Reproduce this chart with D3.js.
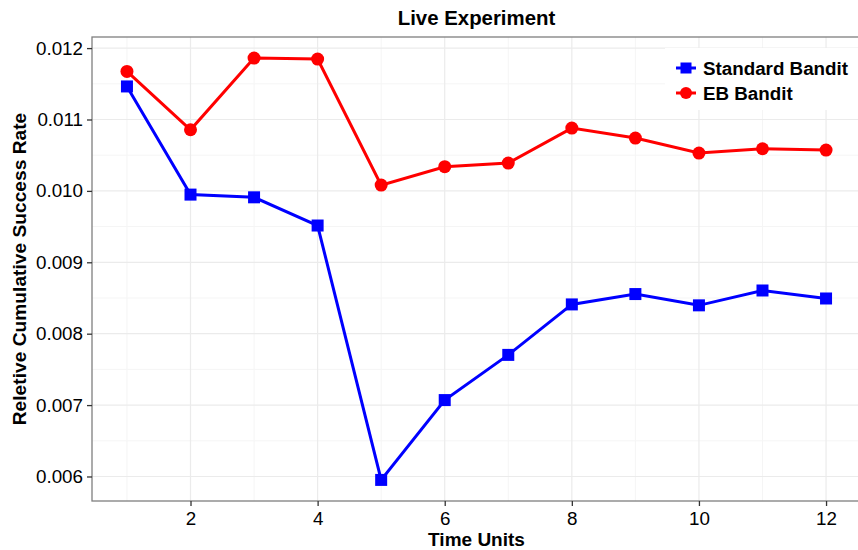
<!DOCTYPE html>
<html>
<head>
<meta charset="utf-8">
<script src="https://cdn.jsdelivr.net/npm/d3@7"></script>
<style>
  body { margin: 0; background: #fff; }
  svg { display: block; font-family: "Liberation Sans", Arial, sans-serif; }
</style>
</head>
<body>
<div id="chart"></div>
<script>
const timeUnits = [1, 2, 3, 4, 5, 6, 7, 8, 9, 10, 11, 12];
const standardBandit = [0.011463, 0.009948, 0.009910, 0.009515, 0.005952, 0.007070,
                        0.007703, 0.008410, 0.008555, 0.008397, 0.008605, 0.008493];
const ebBandit = [0.011673, 0.010856, 0.011860, 0.011846, 0.010081, 0.010339,
                  0.010390, 0.010880, 0.010740, 0.010530, 0.010590, 0.010572];
const xTicks = [2, 4, 6, 8, 10, 12];
const yTicks = [0.006, 0.007, 0.008, 0.009, 0.010, 0.011, 0.012];
const seriesNames = ["Standard Bandit", "EB Bandit"];

const width = 858, height = 550;
const margin = {top: 37, right: -3, bottom: 49, left: 92};

const svg = d3.select("#chart").append("svg")
    .attr("width", width)
    .attr("height", height);

// ggplot-style 5% expansion
const xr = [1, 12], yAll = standardBandit.concat(ebBandit);
const yr = d3.extent(yAll);
const xPad = (xr[1] - xr[0]) * 0.05, yPad = (yr[1] - yr[0]) * 0.05;

const x = d3.scaleLinear()
    .domain([xr[0] - xPad, xr[1] + xPad])
    .range([margin.left, width - margin.right]);
const y = d3.scaleLinear()
    .domain([yr[0] - yPad, yr[1] + yPad])
    .range([height - margin.bottom, margin.top]);

const panel = svg.append("g");

// minor grid
const xMinor = d3.range(1, 13, 2);
const yMinor = d3.range(0.0055, 0.0125, 0.001).filter(v => v > y.domain()[0] && v < y.domain()[1]);
panel.selectAll(".xminor").data(xMinor).join("line")
    .attr("x1", d => x(d)).attr("x2", d => x(d))
    .attr("y1", margin.top).attr("y2", height - margin.bottom)
    .attr("stroke", "#f5f5f5").attr("stroke-width", 1);
panel.selectAll(".yminor").data(yMinor).join("line")
    .attr("x1", margin.left).attr("x2", width)
    .attr("y1", d => y(d)).attr("y2", d => y(d))
    .attr("stroke", "#f5f5f5").attr("stroke-width", 1);

// major grid
panel.selectAll(".xmajor").data(xTicks).join("line")
    .attr("x1", d => x(d)).attr("x2", d => x(d))
    .attr("y1", margin.top).attr("y2", height - margin.bottom)
    .attr("stroke", "#ebebeb").attr("stroke-width", 1.2);
panel.selectAll(".ymajor").data(yTicks).join("line")
    .attr("x1", margin.left).attr("x2", width)
    .attr("y1", d => y(d)).attr("y2", d => y(d))
    .attr("stroke", "#ebebeb").attr("stroke-width", 1.2);

// lines and points
const line = d3.line().x((d, i) => x(timeUnits[i])).y(d => y(d));

panel.append("path").datum(standardBandit)
    .attr("d", line).attr("fill", "none")
    .attr("stroke", "#0000ff").attr("stroke-width", 3);
panel.append("path").datum(ebBandit)
    .attr("d", line).attr("fill", "none")
    .attr("stroke", "#ff0000").attr("stroke-width", 3);

const sq = 12;
panel.selectAll(".sq").data(standardBandit).join("rect")
    .attr("x", (d, i) => x(timeUnits[i]) - sq / 2)
    .attr("y", d => y(d) - sq / 2)
    .attr("width", sq).attr("height", sq)
    .attr("fill", "#0000ff");
panel.selectAll(".pt").data(ebBandit).join("circle")
    .attr("cx", (d, i) => x(timeUnits[i]))
    .attr("cy", d => y(d))
    .attr("r", 6.5)
    .attr("fill", "#ff0000");

// legend
const lg = svg.append("g").attr("transform", "translate(665,48)");
lg.append("rect").attr("width", 200).attr("height", 62).attr("fill", "#fff");
seriesNames.forEach((name, i) => {
  const g = lg.append("g").attr("transform", `translate(0,${20 + i * 25})`);
  const col = i === 0 ? "#0000ff" : "#ff0000";
  g.append("line").attr("x1", 11).attr("x2", 31).attr("y1", 0).attr("y2", 0)
      .attr("stroke", col).attr("stroke-width", 3);
  if (i === 0) {
    g.append("rect").attr("x", 15.5).attr("y", -5.5).attr("width", 11).attr("height", 11).attr("fill", col);
  } else {
    g.append("circle").attr("cx", 21).attr("cy", 0).attr("r", 6).attr("fill", col);
  }
  g.append("text").attr("x", 38).attr("y", 7)
      .attr("font-size", 18.8).attr("font-weight", "bold").text(name);
});

// panel border
svg.append("rect")
    .attr("x", margin.left).attr("y", margin.top)
    .attr("width", width - margin.right - margin.left)
    .attr("height", height - margin.bottom - margin.top)
    .attr("fill", "none").attr("stroke", "#7f7f7f").attr("stroke-width", 1.3);

// axes
const xAxis = svg.append("g")
    .attr("transform", `translate(0,${height - margin.bottom})`)
    .call(d3.axisBottom(x).tickValues(xTicks).tickSize(5).tickPadding(6).tickFormat(d3.format("d")));
const yAxis = svg.append("g")
    .attr("transform", `translate(${margin.left},0)`)
    .call(d3.axisLeft(y).tickValues(yTicks).tickSize(5).tickPadding(4).tickFormat(d3.format(".3f")));
[xAxis, yAxis].forEach(a => {
  a.select(".domain").remove();
  a.selectAll(".tick line").attr("stroke", "#333").attr("stroke-width", 1.3);
  a.selectAll(".tick text").attr("font-size", 18.8).attr("fill", "#000")
      .attr("font-family", "Liberation Sans, Arial, sans-serif");
});

// titles
const cx = (margin.left + width - margin.right) / 2;
svg.append("text").attr("x", cx).attr("y", 25)
    .attr("text-anchor", "middle").attr("font-size", 20.4).attr("font-weight", "bold")
    .text("Live Experiment");
svg.append("text").attr("x", cx).attr("y", 546)
    .attr("text-anchor", "middle").attr("font-size", 19).attr("font-weight", "bold")
    .text("Time Units");
svg.append("text")
    .attr("transform", `translate(26,${(margin.top + height - margin.bottom) / 2}) rotate(-90)`)
    .attr("text-anchor", "middle").attr("font-size", 19.2).attr("font-weight", "bold")
    .text("Reletive Cumulative Success Rate");
</script>
</body>
</html>
